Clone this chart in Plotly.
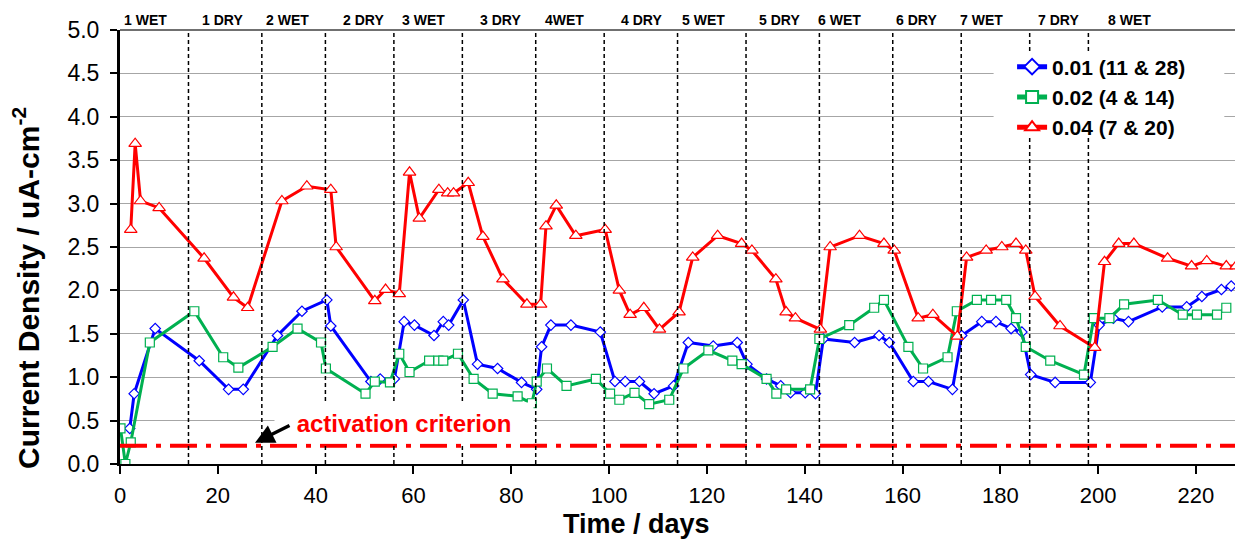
import plotly.graph_objects as go

# ---------------- data ----------------
blue_days = [2.0, 2.9, 7.2, 16.2, 22.2, 25.2, 32.2, 37.2, 42.3, 43.1, 51.3, 53.2, 56.1, 58.1, 60.2,
             64.2, 66.1, 67.2, 70.2, 73.1, 77.2, 82.1, 85.2, 86.2, 88.1, 92.2, 98.2, 101.2, 103.3,
             106.2, 109.2, 113.2, 116.2, 121.3, 126.2, 128.2, 132.2, 135.1, 137.1, 140.1, 142.2,
             143.8, 150.2, 155.2, 157.3, 162.2, 165.3, 170.2, 172.1, 176.2, 179.1, 182.2, 184.4,
             186.2, 191.2, 198.4, 200.2, 203.1, 206.2, 213.1, 218.1, 221.2, 225.2, 227.2]
blue_vals = [0.41, 0.81, 1.56, 1.19, 0.86, 0.86, 1.48, 1.76, 1.89, 1.59, 0.95, 0.98, 0.98, 1.64, 1.60,
             1.48, 1.64, 1.60, 1.89, 1.15, 1.10, 0.94, 0.86, 1.35, 1.60, 1.60, 1.52, 0.95, 0.95,
             0.95, 0.81, 0.90, 1.40, 1.36, 1.40, 1.15, 0.98, 0.90, 0.82, 0.82, 0.81,
             1.44, 1.40, 1.48, 1.40, 0.95, 0.95, 0.86, 1.48, 1.64, 1.64, 1.56, 1.52,
             1.03, 0.94, 0.94, 1.60, 1.68, 1.64, 1.81, 1.81, 1.93, 2.01, 2.05]

green_days = [0.1, 1.1, 2.2, 6.1, 15.2, 21.1, 24.2, 31.2, 36.3, 41.1, 42.1, 50.2, 52.1, 55.2, 57.1,
              59.2, 63.2, 65.1, 66.1, 69.1, 72.3, 76.2, 81.3, 84.2, 85.2, 87.3, 91.3, 97.3, 100.2,
              102.1, 105.2, 108.2, 112.3, 115.2, 120.3, 125.2, 127.1, 132.2, 134.2, 136.2, 141.1,
              143.0, 149.1, 154.2, 156.2, 161.2, 164.2, 169.2, 171.1, 175.2, 178.1, 181.2, 183.2,
              185.2, 190.2, 197.1, 199.1, 202.3, 205.3, 212.2, 217.3, 220.2, 224.3, 226.2]
green_vals = [0.41, 0.00, 0.25, 1.40, 1.76, 1.23, 1.11, 1.35, 1.56, 1.40, 1.10, 0.81, 0.95, 0.94, 1.27,
              1.06, 1.19, 1.19, 1.19, 1.27, 0.98, 0.81, 0.78, 0.70, 0.95, 1.10, 0.90, 0.98, 0.81,
              0.74, 0.82, 0.69, 0.74, 1.10, 1.31, 1.19, 1.15, 0.98, 0.81, 0.86, 0.86,
              1.44, 1.60, 1.80, 1.89, 1.35, 1.10, 1.23, 1.76, 1.89, 1.89, 1.89, 1.68,
              1.35, 1.19, 1.03, 1.68, 1.68, 1.84, 1.89, 1.72, 1.72, 1.72, 1.80]

red_days = [2.2, 3.1, 4.2, 8.0, 17.2, 23.2, 26.1, 33.1, 38.2, 43.1, 44.2, 52.1, 54.3, 57.1, 59.2,
            61.2, 65.2, 67.0, 68.2, 71.2, 74.2, 78.3, 83.2, 86.0, 87.1, 89.2, 93.2, 99.2, 102.1,
            104.3, 107.1, 110.3, 114.3, 117.1, 122.2, 127.1, 129.2, 134.1, 136.2, 138.1, 143.2,
            145.2, 151.2, 156.2, 158.3, 163.2, 166.2, 171.2, 173.1, 177.1, 180.3, 183.2, 185.2,
            187.1, 192.2, 199.3, 201.3, 204.2, 207.3, 214.2, 219.1, 222.2, 226.2, 228.2]
red_vals = [2.70, 3.69, 3.03, 2.95, 2.37, 1.92, 1.80, 3.03, 3.20, 3.16, 2.50, 1.88, 2.01, 1.96, 3.36,
            2.83, 3.16, 3.12, 3.12, 3.24, 2.62, 2.13, 1.84, 1.84, 2.74, 2.98, 2.63, 2.70, 2.00,
            1.72, 1.80, 1.55, 1.75, 2.38, 2.63, 2.54, 2.46, 2.13, 1.75, 1.68, 1.55,
            2.50, 2.63, 2.54, 2.46, 1.68, 1.72, 1.47, 2.38, 2.46, 2.50, 2.54, 2.46,
            1.93, 1.59, 1.34, 2.33, 2.54, 2.54, 2.37, 2.28, 2.34, 2.28, 2.28]

series_names = ["0.01 (11 & 28)", "0.02 (4 & 14)", "0.04 (7 & 20)"]

activation_criterion = 0.21
phase_boundaries = [14, 29, 42, 56, 70, 85, 99, 114, 128, 143, 158, 172, 186, 198]
phase_labels = ["1 WET", "1 DRY", "2 WET", "2 DRY", "3 WET", "3 DRY", "4WET", "4 DRY",
                "5 WET", "5 DRY", "6 WET", "6 DRY", "7 WET", "7 DRY", "8 WET"]
phase_label_x = [5.3, 20.9, 34.3, 49.8, 62.0, 77.7, 90.9, 106.7, 119.3, 134.8, 147.1,
                 162.8, 176.2, 191.8, 206.5]

x_range = [0, 229]
y_range = [0, 5]

# ---------------- figure ----------------
FONT = "Arial, Liberation Sans, sans-serif"
BLUE = "#0000FF"
GREEN = "#00B050"
RED = "#FF0000"

fig = go.Figure()

fig.add_trace(go.Scatter(
    x=blue_days, y=blue_vals, name=series_names[0], mode="lines+markers",
    line=dict(color=BLUE, width=3),
    marker=dict(symbol="diamond", size=8, color="white", line=dict(color=BLUE, width=1.2)),
))
fig.add_trace(go.Scatter(
    x=green_days, y=green_vals, name=series_names[1], mode="lines+markers",
    line=dict(color=GREEN, width=3),
    marker=dict(symbol="square", size=9, color="white", line=dict(color=GREEN, width=1.2)),
))
fig.add_trace(go.Scatter(
    x=red_days, y=red_vals, name=series_names[2], mode="lines+markers",
    line=dict(color=RED, width=3),
    marker=dict(symbol="triangle-up", size=11, color="white", line=dict(color=RED, width=1.2)),
))

# activation criterion line
fig.add_trace(go.Scatter(
    x=x_range, y=[activation_criterion, activation_criterion], mode="lines",
    line=dict(color=RED, width=4, dash="27px,9px,5px,9px"),
    showlegend=False, hoverinfo="skip",
))

shapes = []
for b in phase_boundaries:
    shapes.append(dict(type="line", xref="x", yref="paper", x0=b, x1=b, y0=0, y1=1,
                       line=dict(color="black", width=1.5, dash="4px,3px"), layer="above"))
# top frame line
shapes.append(dict(type="line", xref="paper", yref="paper", x0=0, x1=1, y0=1, y1=1,
                   line=dict(color="#404040", width=1.5), layer="above"))
# white box behind legend
shapes.append(dict(type="rect", xref="paper", yref="paper", x0=0.780, x1=0.986, y0=0.758, y1=0.949,
                   fillcolor="white", line=dict(width=0), layer="above"))

annotations = []
for lab, lx in zip(phase_labels, phase_label_x):
    annotations.append(dict(x=lx, y=1.023, xref="x", yref="paper", text="<b>%s</b>" % lab,
                            showarrow=False, xanchor="center", yanchor="middle",
                            font=dict(family=FONT, size=14, color="black")))

# activation criterion label (white box)
annotations.append(dict(x=58.0, y=0.47, xref="x", yref="y", text="<b>activation criterion</b>",
                        showarrow=False, xanchor="center", yanchor="middle",
                        bgcolor="white", width=258, height=40, borderpad=0,
                        font=dict(family=FONT, size=24, color=RED)))
# arrow
annotations.append(dict(x=27.6, y=0.245, xref="x", yref="y", text="", showarrow=True,
                        ax=36, ay=-18, axref="pixel", ayref="pixel",
                        arrowhead=2, arrowsize=1.1, arrowwidth=3.5, arrowcolor="black"))

# axis titles
annotations.append(dict(x=0.461, y=-0.138, xref="paper", yref="paper", text="<b>Time / days</b>",
                        showarrow=False, xanchor="center", yanchor="middle",
                        font=dict(family=FONT, size=27, color="black")))
annotations.append(dict(x=-0.084, y=0.4055, xref="paper", yref="paper",
                        text="<b>Current Density / uA-cm<sup>-2</sup></b>",
                        showarrow=False, xanchor="center", yanchor="middle", textangle=-90,
                        font=dict(family=FONT, size=30, color="black")))

# page body has an 8px margin: shrink the figure and margins to keep the plot area in place
fig.update_layout(
    width=1235, height=533,
    margin=dict(l=112, r=3, t=22, b=77, autoexpand=False),
    paper_bgcolor="white", plot_bgcolor="white",
    font=dict(family=FONT, color="black"),
    showlegend=True,
    legend=dict(x=0.7965, y=0.962, xanchor="left", yanchor="top",
                bgcolor="rgba(0,0,0,0)", borderwidth=0,
                font=dict(family=FONT, size=21, color="black", weight="bold"),
                tracegroupgap=0, itemsizing="constant"),
    shapes=shapes,
    annotations=annotations,
    xaxis=dict(range=x_range, dtick=20, tick0=0, showgrid=False, zeroline=False,
               showline=True, linecolor="black", linewidth=2,
               ticks="outside", ticklen=8, tickwidth=1.5, tickcolor="black",
               ticklabelstandoff=3,
               tickfont=dict(family=FONT, size=22, color="black")),
    yaxis=dict(range=y_range, dtick=0.5, tick0=0, tickformat=".1f",
               showgrid=True, gridcolor="#a6a6a6", gridwidth=1, zeroline=False,
               showline=True, linecolor="black", linewidth=3,
               ticks="outside", ticklen=7, tickwidth=1.5, tickcolor="black",
               ticklabelstandoff=6,
               tickfont=dict(family=FONT, size=23, color="black")),
)

fig.write_html("out.html")
